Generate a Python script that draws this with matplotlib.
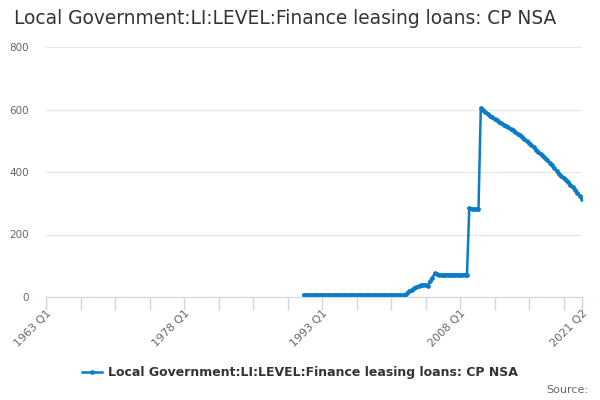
import matplotlib
matplotlib.use("Agg")
import matplotlib.pyplot as plt

title = "Local Government:LI:LEVEL:Finance leasing loans: CP NSA"
series_name = "Local Government:LI:LEVEL:Finance leasing loans: CP NSA"

first_year = 1963
last_label = "2021 Q2"
data_start = "1991 Q1"

# quarterly values from 1991 Q1 to 2021 Q2
values = [
    7, 7, 7, 7, 7, 7, 7, 7, 7, 7, 7, 7, 7, 7, 7, 7, 7, 7, 7, 7, 7, 7,
    7, 7, 7, 7, 7, 7, 7, 7, 7, 7, 7, 7, 7, 7, 7, 7, 7, 7, 7, 7, 7, 7,
    # 2002 Q1 ->
    7, 12, 18, 24, 28, 31, 35, 37, 39, 40, 36, 50, 62, 76, 73, 71,
    72, 72, 72, 72, 72, 72, 72, 72, 72, 72, 72, 72,
    # 2009 Q1 ->
    285, 283, 281, 281, 281,
    604, 598, 592, 585, 579, 575, 570, 566, 561, 557, 552, 548, 543,
    538, 533, 528, 523, 518, 512, 505, 498, 492, 486, 479, 471, 464,
    457, 450, 444, 437, 429, 421, 413, 404, 395, 387, 380, 374, 367,
    360, 352, 343, 334, 324, 313,
]

labels = []
y, q = first_year, 1
while True:
    labels.append(f"{y} Q{q}")
    if labels[-1] == last_label:
        break
    q += 1
    if q > 4:
        q, y = 1, y + 1

start = labels.index(data_start)
xs = list(range(start, start + len(values)))

fig = plt.figure(figsize=(6, 4), dpi=100)
ax = fig.add_axes([0.0767, 0.2575, 0.8933, 0.625])

blue = "#0a7bc4"
line, = ax.plot(xs, values, color=blue, lw=1.8, marker="o", ms=2.4,
                mec=blue, mfc=blue, label=series_name)

n = len(labels) - 1
ax.set_xlim(0, n)
ax.set_ylim(0, 800)
ax.set_yticks([0, 200, 400, 600, 800])
ax.grid(axis="y", color="#e6e6e6", lw=0.8)
ax.set_axisbelow(True)

ticks = list(range(0, n, 15)) + [n]
ax.set_xticks(ticks)
ax.set_xticklabels([labels[t] if (t % 60 == 0 or t == n) else "" for t in ticks],
                   rotation=45, ha="right", va="top", rotation_mode="anchor")

for s in ["left", "top", "right"]:
    ax.spines[s].set_visible(False)
ax.spines["bottom"].set_color("#ccd6eb")
ax.tick_params(axis="x", colors="#ccd6eb", length=9, width=1, pad=-1,
               labelcolor="#666666", labelsize=8)
ax.tick_params(axis="y", length=0, labelcolor="#666666", labelsize=7.5, pad=12)

fig.text(0.023, 0.955, title, fontsize=13.4, color="#333333", va="center")

fig.legend(handles=[line], loc="center", bbox_to_anchor=(0.5, 0.068),
           frameon=False, handlelength=1.6, handletextpad=0.5,
           prop={"weight": "bold", "size": 9}, labelcolor="#333333")

fig.text(0.98, 0.025, "Source:", fontsize=8, color="#666666", ha="right", va="center")

fig.savefig("out.png", dpi=100)
